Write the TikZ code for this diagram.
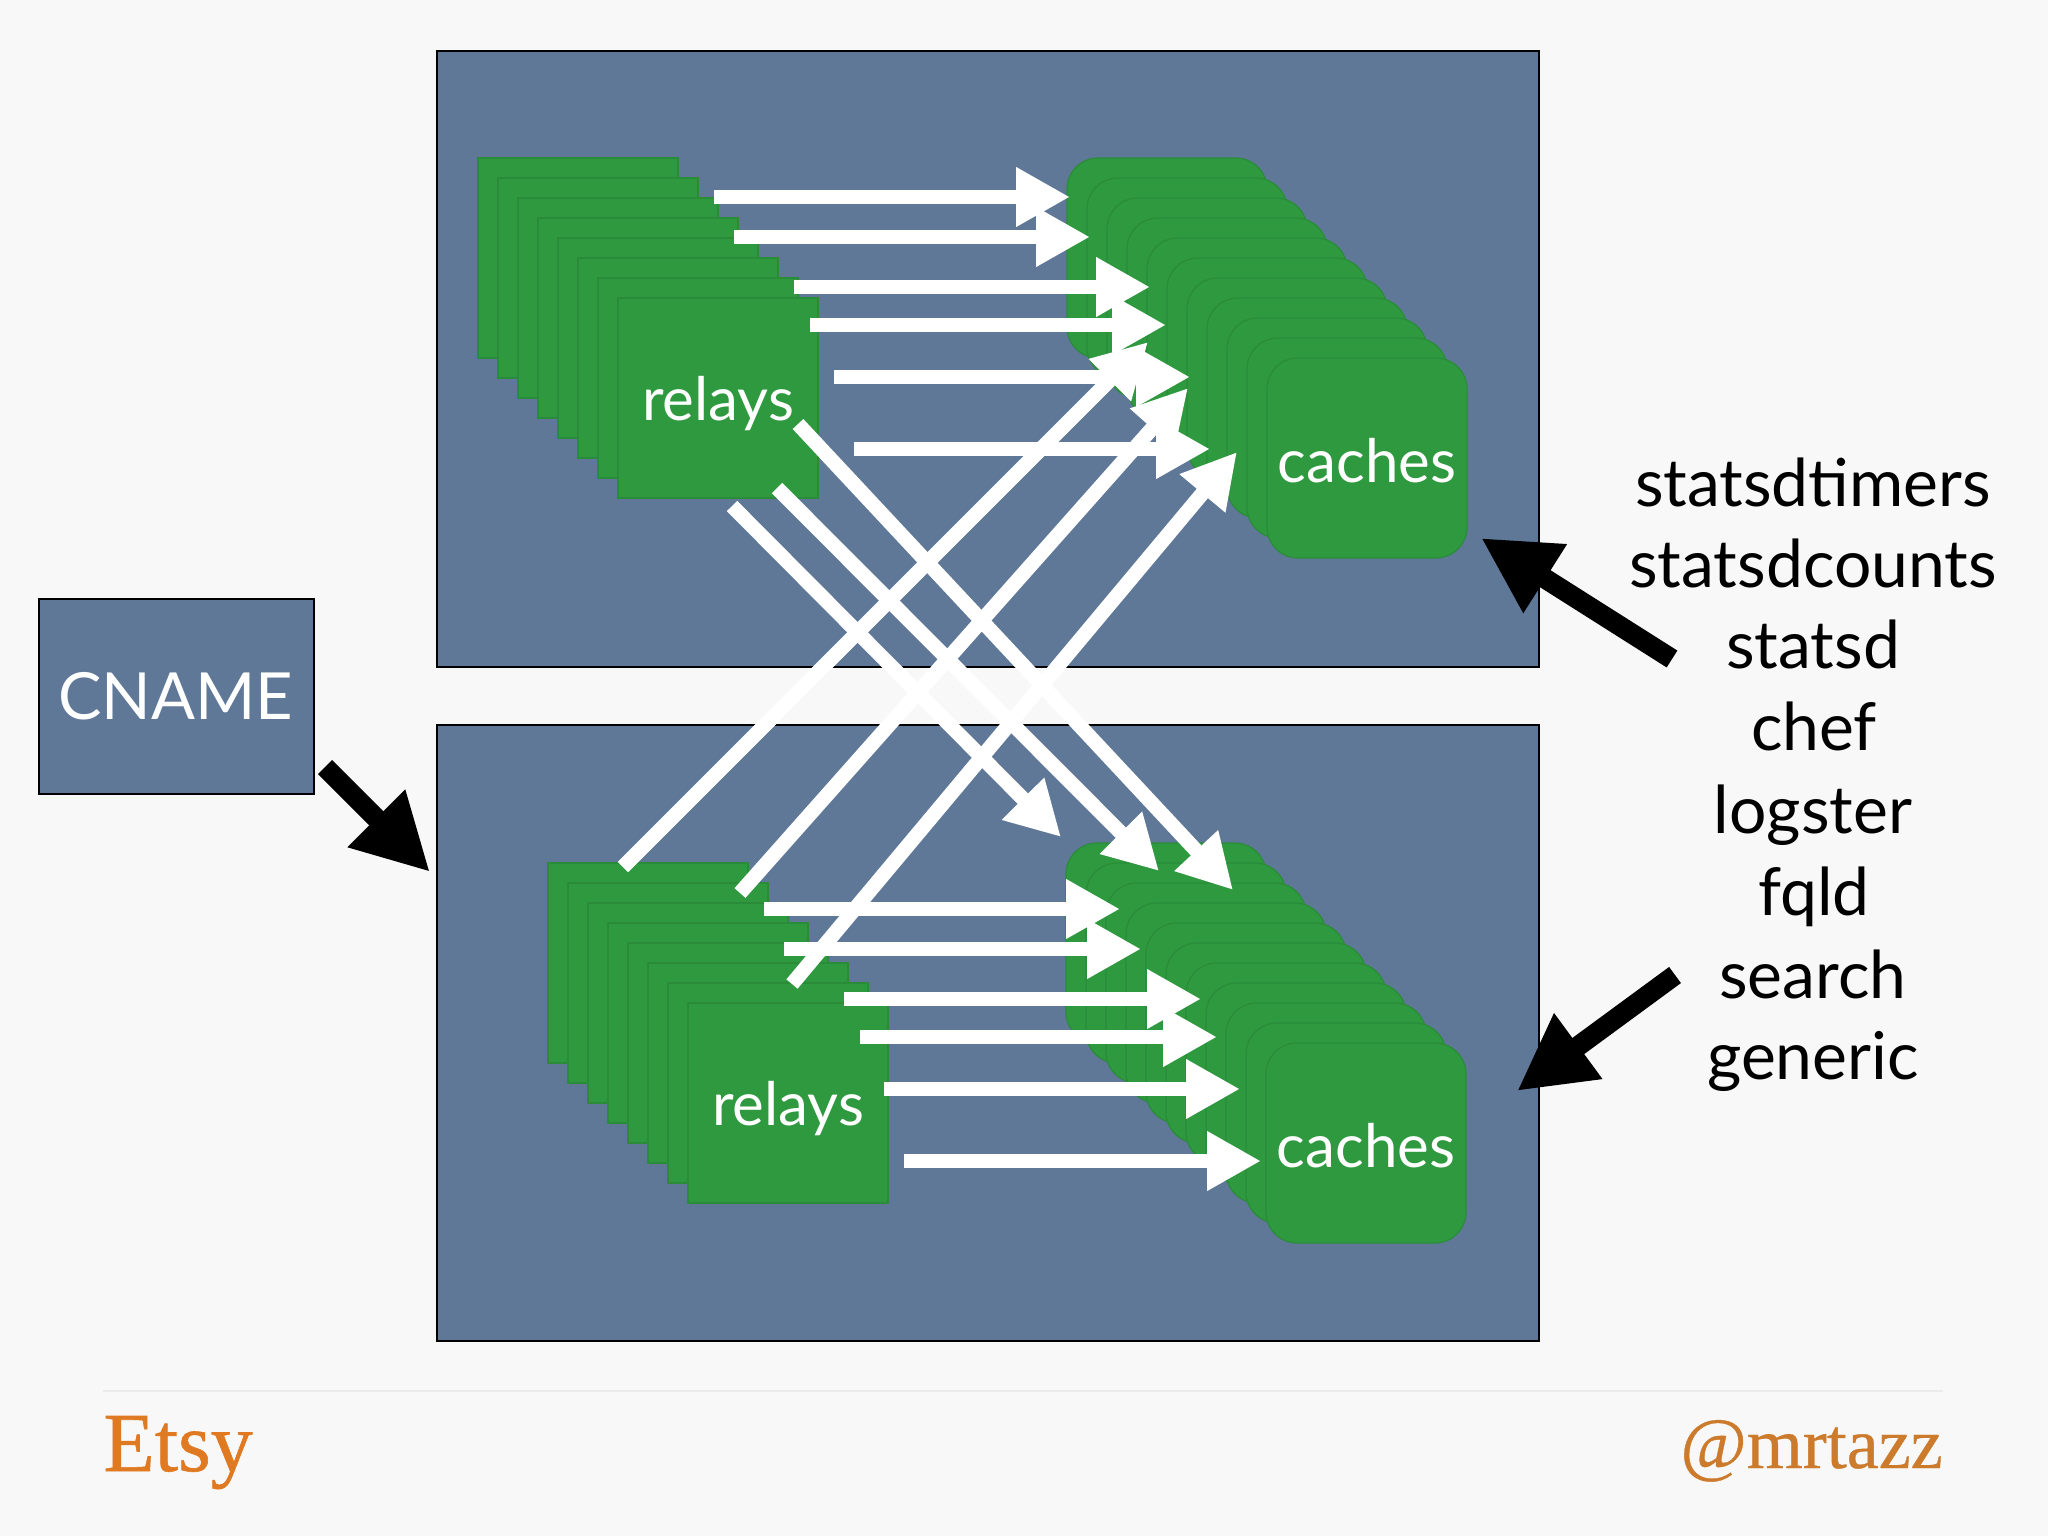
\documentclass[tikz,border=0pt]{standalone}
\usepackage{fontspec}
\setmainfont{Lato}
\newfontfamily\etsyfont[FakeBold=0.7]{Liberation Serif}
\newfontfamily\handlefont[FakeBold=0.5]{Liberation Serif}
\usetikzlibrary{arrows.meta}
\definecolor{pagebg}{HTML}{F8F8F8}
\definecolor{slate}{HTML}{5F7898}
\definecolor{leaf}{HTML}{2F993F}
\definecolor{leafedge}{HTML}{2A8C39}
\definecolor{etsyorange}{HTML}{E07A22}
\definecolor{handleorange}{HTML}{CC7A2C}
\newcommand{\relaytext}{\raisebox{-11pt}[0pt][0pt]{relays}}
\newcommand{\cachetext}{\raisebox{-12pt}[0pt][0pt]{caches}}
\tikzset{
  panel/.style={draw=black,line width=1pt,fill=slate,anchor=north west,inner sep=0pt},
  relaycard/.style={draw=leafedge,line width=.6pt,fill=leaf,minimum size=100pt,inner sep=0pt,text=white,font=\fontsize{30}{30}\selectfont},
  cachecard/.style={relaycard,rounded corners=15.5pt},
  flow/.style={white,line width=7.3pt,-{Triangle[length=27pt,width=28pt]}},
  pointer/.style={black,line width=10pt,-{Triangle[length=38pt,width=38pt]}},
  service/.style={font=\fontsize{33}{33}\selectfont,anchor=base}
}
\begin{document}
\begin{tikzpicture}[x=.5pt,y=-.5pt]
  \useasboundingbox[fill=pagebg] (0,0) rectangle (2048,1536);

  \node[panel,minimum width=551pt,minimum height=308pt] (top) at (436,50) {};
  \node[panel,minimum width=551pt,minimum height=308pt] (bottom) at (436,724) {};
  \node[panel,minimum width=137.5pt,minimum height=97.5pt,anchor=center,text=white,font=\fontsize{32.5}{33}\selectfont] (cname) at (176,696.5) {CNAME};

  % top row
  \foreach \i in {0,...,6}
    \node[relaycard] (ra\i) at ({578+20*\i},{258+20*\i}) {};
  \node[relaycard] (ra7) at (718,398) {\relaytext};
  \foreach \i in {0,...,9}
    \node[cachecard] (ca\i) at ({1167+20*\i},{258+20*\i}) {};
  \node[cachecard] (ca10) at (1367,458) {\cachetext};

  % bottom row
  \foreach \i in {0,...,6}
    \node[relaycard] (rb\i) at ({648+20*\i},{963+20*\i}) {};
  \node[relaycard] (rb7) at (788,1103) {\relaytext};
  \foreach \i in {0,...,9}
    \node[cachecard] (cb\i) at ({1166+20*\i},{943+20*\i}) {};
  \node[cachecard] (cb10) at (1366,1143) {\cachetext};

  % arrows inside a row
  \foreach \n/\xa/\xb/\yy in {a/714/1070/197,b/734/1090/237,c/794/1150/287,d/810/1166/325,e/834/1190/377,f/854/1210/449,
                              g/764/1120/909,h/784/1141/949,i/844/1201/999,j/860/1217/1037,k/884/1240/1089,l/904/1261/1161} {
    \coordinate (\n from) at (\xa,\yy);
    \coordinate (\n to) at (\xb,\yy);
    \draw[flow] (\n from) -- (\n to);
  }

  % arrows between rows
  \foreach \n/\xa/\ya/\xb/\yb in {m/623/867/1148/342,n/740/893/1188/388,o/792/984/1237/452,
                                  p/732/506/1061/837,q/777/488/1159/871,r/798/424/1233/890} {
    \coordinate (\n from) at (\xa,\ya);
    \coordinate (\n to) at (\xb,\yb);
    \draw[flow] (\n from) -- (\n to);
  }

  % services
  \node[service] (timers) at (1813,506) {statsdtimers};
  \node[service] (counts) at (1813,587) {statsdcounts};
  \node[service] (statsd) at (1813,668) {statsd};
  \node[service] (chef) at (1814,750) {chef};
  \node[service] (logster) at (1813,833) {logster};
  \node[service] (fqld) at (1814,915) {fqld};
  \node[service] (search) at (1813,998) {search};
  \node[service] (generic) at (1813,1079) {generic};

  \coordinate (pa) at (325,767);
  \coordinate (pb) at (430,872);
  \coordinate (pc) at (1672,659);
  \coordinate (pd) at (1481,538);
  \coordinate (pe) at (1675,975);
  \coordinate (pf) at (1517,1091);
  \draw[pointer] (pa) -- (pb);
  \draw[pointer] (pc) -- (pd);
  \draw[pointer] (pe) -- (pf);

  % footer
  \coordinate (la) at (103,1391);
  \coordinate (lb) at (1943,1391);
  \draw[black!8,line width=.8pt] (la) -- (lb);
  \node[anchor=base west,inner sep=0pt,text=etsyorange,font=\etsyfont\fontsize{42}{42}\selectfont] (etsy) at (103,1471) {Etsy};
  \node[anchor=base east,inner sep=0pt,text=handleorange,font=\handlefont\fontsize{36}{36}\selectfont] (handle) at (1943,1468) {@mrtazz};
\end{tikzpicture}
\end{document}
